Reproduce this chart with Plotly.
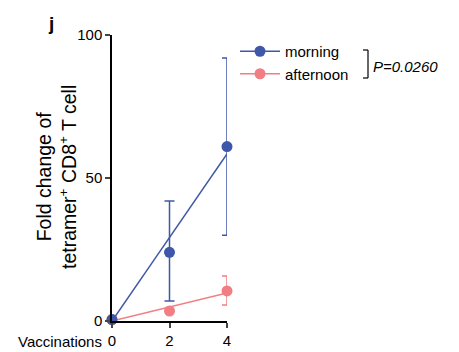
import numpy as np
import plotly.graph_objects as go

vaccinations = [0, 2, 4]
morning_mean = [0.5, 24, 61]
morning_err_up = [0, 18, 31]
morning_err_down = [0, 17, 31]
afternoon_mean = [0.5, 3.5, 10.5]
afternoon_err_up = [0, 0, 5.2]
afternoon_err_down = [0, 0, 4.9]
y_ticks = [0, 50, 100]
x_ticks = [0, 2, 4]

BLUE = "#3F57A8"
PINK = "#F07E83"
FONT = "Liberation Sans, Arial, sans-serif"

def fit_origin(x, y):
    x = np.array(x, float); y = np.array(y, float)
    return float((x * y).sum() / (x * x).sum())

fig = go.Figure()
# draw afternoon first so morning sits on top
for mean, up, dn, col, name in [
    (afternoon_mean, afternoon_err_up, afternoon_err_down, PINK, "afternoon"),
    (morning_mean, morning_err_up, morning_err_down, BLUE, "morning"),
]:
    k = fit_origin(vaccinations, mean)
    xs = [min(vaccinations), max(vaccinations)]
    fig.add_trace(go.Scatter(x=xs, y=[k * v for v in xs], mode="lines",
                             line=dict(color=col, width=1.5), showlegend=False,
                             cliponaxis=False, hoverinfo="skip"))
    fig.add_trace(go.Scatter(x=vaccinations, y=mean, mode="markers", name=name,
                             marker=dict(color=col, size=11), showlegend=False,
                             error_y=dict(type="data", array=up, arrayminus=dn,
                                          color=col, thickness=1.5, width=5),
                             cliponaxis=False))
for col, name in [(BLUE, "morning"), (PINK, "afternoon")]:
    fig.add_trace(go.Scatter(x=[None], y=[None], mode="lines+markers", name=name,
                             line=dict(color=col, width=1.5),
                             marker=dict(color=col, size=11)))

px = lambda p: (p - 112) / 115
py = lambda p: (321 - p) / 286

fig.update_layout(
    width=459, height=352,
    margin=dict(l=112, r=232, t=35, b=31),
    paper_bgcolor="white", plot_bgcolor="white",
    font=dict(family=FONT, color="black", size=15),
    legend=dict(x=px(235), y=py(35), xanchor="left", yanchor="top",
                font=dict(size=15, family=FONT), tracegroupgap=0,
                itemwidth=40, bgcolor="rgba(0,0,0,0)"),
    xaxis=dict(range=[0, 4], tickvals=x_ticks, ticks="outside", ticklen=5, tickwidth=1.5,
               showline=True, linecolor="black", linewidth=1.5, showgrid=False,
               zeroline=False, tickfont=dict(size=15, family=FONT), automargin=False),
    yaxis=dict(range=[0, 100], tickvals=y_ticks, ticks="outside", ticklen=5, tickwidth=1.5,
               showline=True, linecolor="black", linewidth=1.5, showgrid=False,
               zeroline=False, tickfont=dict(size=15, family=FONT), automargin=False),
)

fig.add_annotation(x=px(104), y=py(341), xref="paper", yref="paper", xanchor="right",
                   yanchor="middle", text="Vaccinations", showarrow=False,
                   font=dict(size=15, family=FONT))
fig.add_annotation(x=px(56), y=py(177), xref="paper", yref="paper", textangle=-90,
                   xanchor="center", yanchor="middle",
                   text="Fold change of<br>tetramer<sup>+</sup> CD8<sup>+</sup> T cell",
                   showarrow=False, font=dict(size=19.5, family=FONT))
fig.add_annotation(x=px(51), y=py(24), xref="paper", yref="paper", xanchor="center",
                   yanchor="middle", text="<b>j</b>", showarrow=False,
                   font=dict(size=19, family=FONT))
# bracket
for x0, y0, x1, y1 in [(363, 50, 368, 50), (368, 50, 368, 78), (363, 78, 368, 78)]:
    fig.add_shape(type="line", xref="paper", yref="paper", x0=px(x0), y0=py(y0),
                  x1=px(x1), y1=py(y1), line=dict(color="black", width=1.2))
fig.add_annotation(x=px(371), y=py(66), xref="paper", yref="paper",
                   xanchor="left", yanchor="middle", text="<i>P=0.0260</i>",
                   showarrow=False, font=dict(size=15, family=FONT))

fig.write_html("out.html")
